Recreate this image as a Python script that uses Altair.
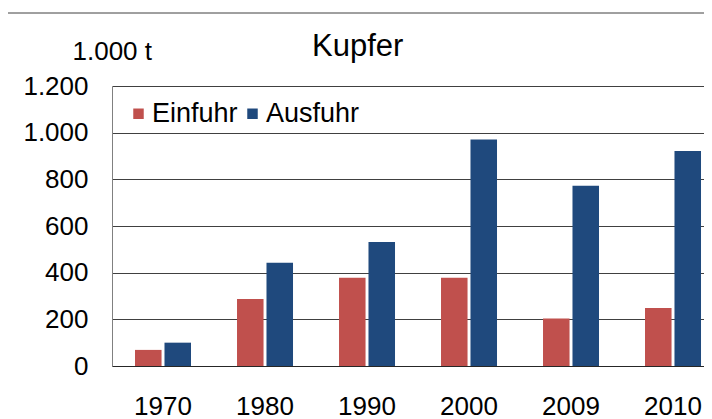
import altair as alt
import pandas as pd

years = ["1970", "1980", "1990", "2000", "2009", "2010"]
einfuhr = [69, 287, 378, 378, 204, 249]
ausfuhr = [100, 443, 531, 971, 773, 921]
series = ["Einfuhr", "Ausfuhr"]
colors = ["#C0504D", "#1F497D"]
y_ticks = [0, 200, 400, 600, 800, 1000, 1200]

rows = []
for i, yr in enumerate(years):
    rows.append({"Jahr": yr, "Reihe": series[0], "Wert": einfuhr[i]})
    rows.append({"Jahr": yr, "Reihe": series[1], "Wert": ausfuhr[i]})
df = pd.DataFrame(rows)

FONT = "Liberation Sans"

bars = alt.Chart(df).mark_bar().encode(
    x=alt.X(
        "Jahr:N", sort=years,
        scale=alt.Scale(paddingInner=0.451, paddingOuter=0.1275, align=0.885, round=False),
        axis=alt.Axis(title=None, labelAngle=0, ticks=False, tickSize=0, labelPadding=27,
                      labelFontSize=26, labelColor="black", labelFont=FONT,
                      domainColor="#262626", domainWidth=1, grid=False),
    ),
    xOffset=alt.XOffset("Reihe:N", sort=series,
                        scale=alt.Scale(paddingInner=0.1, paddingOuter=0, round=False)),
    y=alt.Y(
        "Wert:Q",
        scale=alt.Scale(domain=[0, 1200], nice=False),
        axis=alt.Axis(values=y_ticks, title="1.000 t", titleAngle=0, titleAlign="left",
                      titleBaseline="alphabetic", titleX=-40, titleY=-27,
                      titleFontSize=26, titleFontWeight="normal", titleColor="black",
                      titleFont=FONT,
                      labelExpr="replace(format(datum.value, ','), ',', '.')",
                      labelFontSize=26, labelColor="black", labelFont=FONT,
                      labelPadding=24, labelFlush=False, labelOverlap=False,
                      ticks=False, tickSize=0, domainColor="#808080",
                      gridColor="#404040", gridWidth=1),
    ),
    color=alt.Color(
        "Reihe:N", sort=series,
        scale=alt.Scale(domain=series, range=colors),
        legend=alt.Legend(title=None, orient="none", legendX=13, legendY=14,
                          direction="horizontal", symbolType="square", symbolSize=110,
                          symbolStrokeWidth=0, labelFontSize=27, labelColor="black",
                          labelFont=FONT, labelOffset=0, columnPadding=1, padding=0),
    ),
)

frame = alt.Chart(alt.Data(values=[{}])).mark_rule(color="#404040", strokeWidth=1).encode(
    x=alt.value(-104), x2=alt.value(592), y=alt.value(-73)
)

chart = alt.layer(frame, bars).properties(
    width=592,
    height=280,
    autosize=alt.AutoSizeParams(type="none"),
    padding={"left": 104, "top": 78, "right": 0, "bottom": 53},
    title=alt.TitleParams("Kupfer", fontSize=31, fontWeight="normal", font=FONT,
                          color="black", anchor="start", frame="group", dx=200, dy=54),
).configure_view(stroke=None)

chart.save("out.html", embed_options={"renderer": "svg", "actions": False})
